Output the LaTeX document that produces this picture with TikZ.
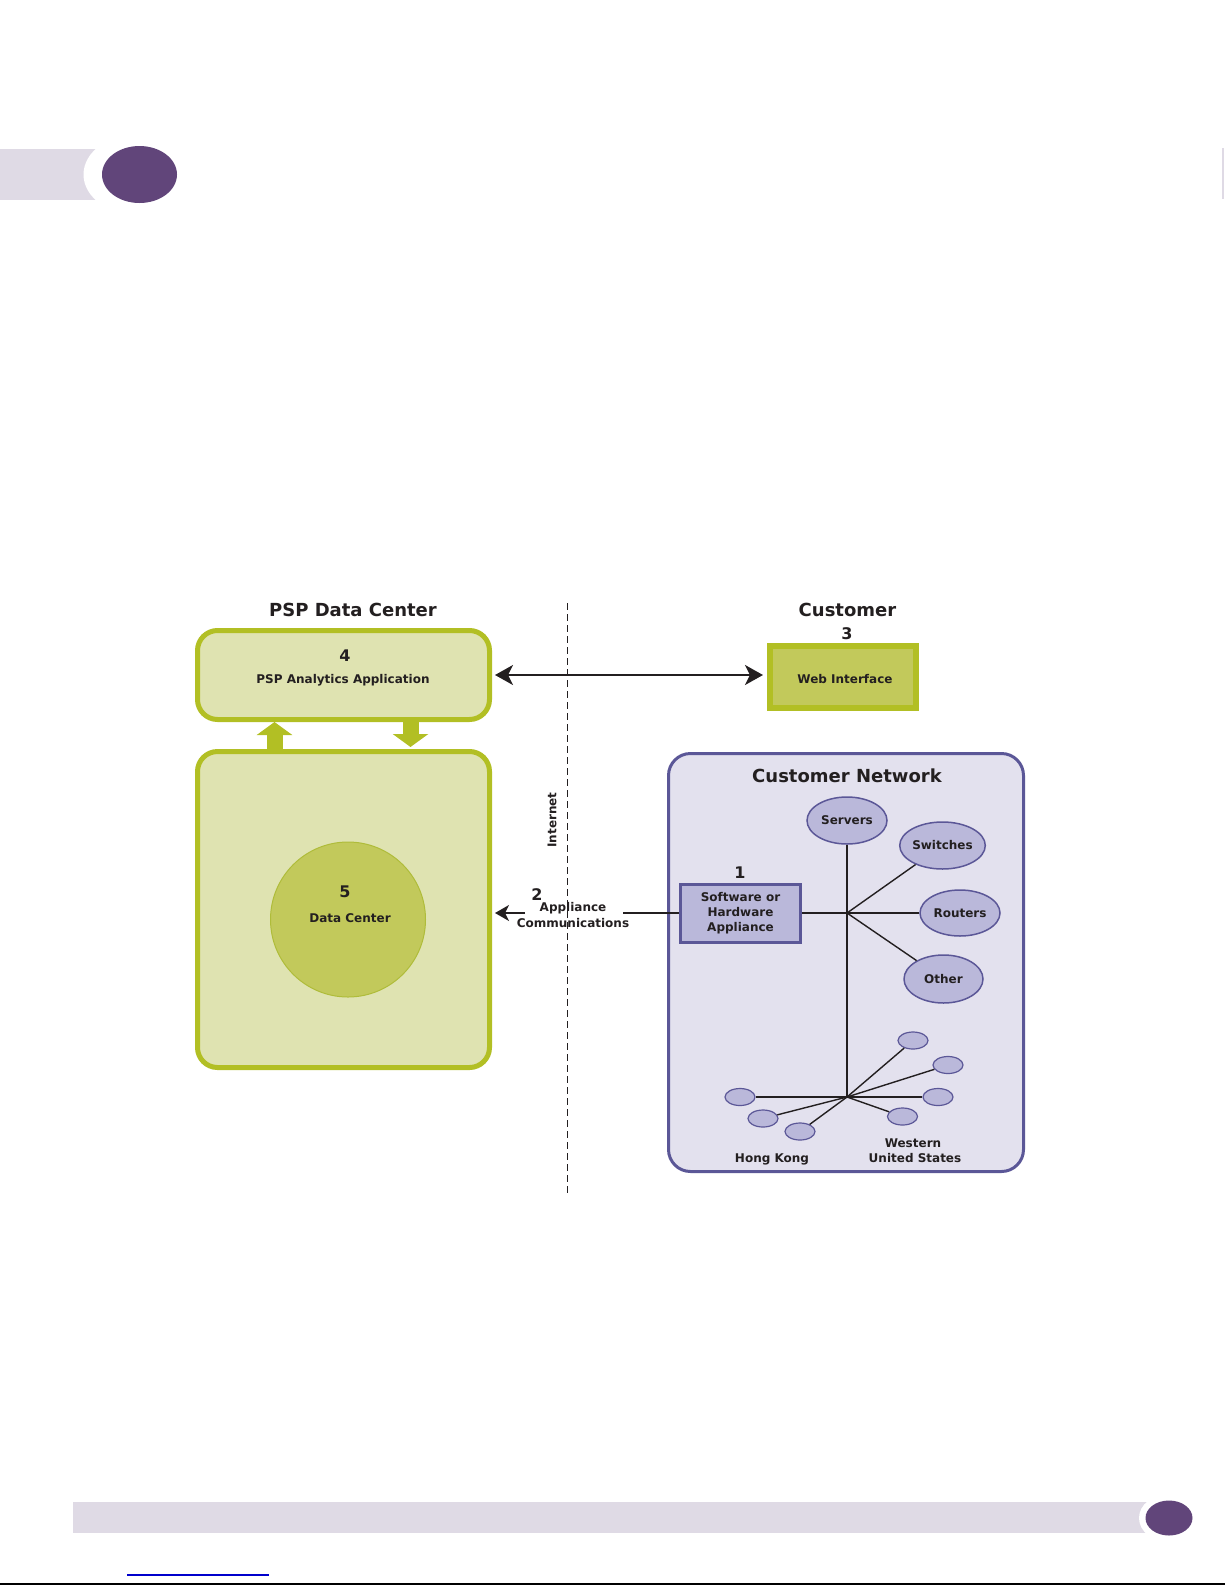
\documentclass[tikz,border=0pt]{standalone}
\usepackage{fontspec}
\setmainfont{DejaVu Sans}
\usetikzlibrary{arrows.meta,shapes.geometric}
\definecolor{grnb}{HTML}{B2BF24}
\definecolor{grnf}{HTML}{DFE3B1}
\definecolor{circf}{HTML}{C2C95B}
\definecolor{circb}{HTML}{AFBC3A}
\definecolor{purp}{HTML}{5B5797}
\definecolor{lavf}{HTML}{E3E1EE}
\definecolor{ellf}{HTML}{BAB8DA}
\definecolor{hdrbar}{HTML}{DFDAE5}
\definecolor{hdrdot}{HTML}{61457A}
\definecolor{txt}{HTML}{231F20}
\definecolor{linkblue}{HTML}{0000CC}
\begin{document}
\begin{tikzpicture}[x=1pt,y=-1pt,
  lbl/.style={anchor=base, inner sep=0pt, text=txt, font=\fontsize{12}{14}\selectfont\bfseries},
  ttl/.style={lbl, font=\fontsize{18}{20}\selectfont\bfseries},
  num/.style={lbl, font=\fontsize{16}{18}\selectfont\bfseries},
  greenbox/.style={draw=grnb, fill=grnf, line width=5pt, rounded corners=20pt, inner sep=0pt},
  netbox/.style={draw=purp, fill=lavf, line width=3pt, rounded corners=22pt, inner sep=0pt},
  netell/.style={ellipse, draw=purp, fill=ellf, line width=1.5pt, inner sep=0pt, text=txt,
    font=\fontsize{12}{14}\selectfont\bfseries, minimum width=80pt, minimum height=47pt},
  smallell/.style={ellipse, draw=purp, fill=ellf, line width=1.2pt, inner sep=0pt,
    minimum width=30pt, minimum height=17pt},
  conn/.style={draw=txt, line width=1.4pt},
  fat/.style={draw=grnb, line width=16pt, -{Triangle[length=13pt,width=35pt]}}
]
\useasboundingbox (0,0) rectangle (1225,1585);

% header decoration
\fill[hdrbar] (0,149) rectangle (140,200);
\fill[white] (139.5,174.5) ellipse [x radius=56, y radius=41];
\fill[hdrdot] (139.5,174.5) ellipse [x radius=37.5, y radius=28.5];
\draw[hdrbar, line width=1.5pt] (1223,148) -- (1223,199);

% footer decoration
\fill[hdrbar] (73,1502) rectangle (1169,1533);
\fill[white] (1169,1518) ellipse [x radius=30, y radius=24];
\fill[hdrdot] (1169,1518) ellipse [x radius=23.5, y radius=17.5];
\draw[linkblue, line width=1.2pt] (127,1575) -- (269,1575);
\draw[black, line width=1.6pt] (0,1584) -- (1225,1584);

% internet divider
\draw[txt, line width=1pt, dash pattern=on 7pt off 4pt] (567,603) -- (567,1196);
\node[lbl, anchor=center, rotate=90, font=\fontsize{12}{14}\selectfont\bfseries] (inet) at (552,820) {Internet};

% PSP data center side
\node[ttl] (tpsp) at (353,616) {PSP Data Center};
\node[greenbox, minimum width=292pt, minimum height=89pt] (app) at (343.5,675) {};
\node[num] (n4) at (345,661) {4};
\node[lbl] (tapp) at (343,683) {PSP Analytics Application};

\node[greenbox, minimum width=292pt, minimum height=316pt] (dcbox) at (343.5,909.5) {};
\node[circle, draw=circb, fill=circf, line width=1pt, minimum size=155pt, inner sep=0pt] (dc) at (348,919.5) {};
\node[num] (n5) at (345,897) {5};
\node[lbl] (tdc) at (350,922) {Data Center};

\coordinate (ua) at (274.5,0);
\coordinate (da) at (410.5,0);
\draw[fat] (ua |- dcbox.north) -- (ua |- app.south);
\draw[fat, shorten >=2pt] (da |- app.south) -- (da |- dcbox.north);

% customer side
\node[ttl] (tcust) at (847.5,616) {Customer};
\node[num] (n3) at (847,639) {3};
\node[draw=grnb, fill=circf, line width=6pt, minimum width=146pt, minimum height=62pt, inner sep=0pt] (web) at (843,677) {};
\node[lbl] (tweb) at (845,683) {Web Interface};

\draw[conn, line width=2.2pt, {Stealth[length=18pt,width=20pt,inset=5pt]}-{Stealth[length=18pt,width=20pt,inset=5pt]}, shorten <=3pt, shorten >=4pt]
  (app.east) -- (app.east -| web.west);

% customer network
\node[netbox, minimum width=355pt, minimum height=418pt] (cnet) at (846,962.5) {};
\node[ttl] (tcnet) at (847,782) {Customer Network};

\node[draw=purp, fill=ellf, line width=3pt, minimum width=120pt, minimum height=58pt, inner sep=0pt,
  align=center, text=txt, font=\fontsize{12}{15}\selectfont\bfseries] (appl) at (740.5,913)
  {Software or\\Hardware\\Appliance};
\node[num] (n1) at (740,878) {1};

\node[netell] (servers) at (847,820.5) {Servers};
\node[netell, minimum width=81pt] (switches) at (942.5,845.5) {Switches};
\node[netell, minimum height=46pt] (routers) at (960,913) {Routers};
\node[netell, minimum width=79pt, minimum height=48pt] (other) at (943.5,979) {Other};

\coordinate (hub) at (847,913);
\coordinate (hub2) at (847,1097);

\node[smallell] (hk1) at (740,1097) {};
\node[smallell] (hk2) at (763,1118.5) {};
\node[smallell] (hk3) at (800,1131.5) {};
\node[smallell] (w1) at (913,1040.5) {};
\node[smallell] (w2) at (948,1065) {};
\node[smallell] (w3) at (938,1097) {};
\node[smallell] (w4) at (902.5,1116.5) {};

\draw[conn] (appl.east) -- (routers.west);
\draw[conn] (servers.south) -- (hub2);
\draw[conn] (hub) -- (switches);
\draw[conn] (hub) -- (other);
\foreach \e in {hk1,hk2,hk3,w1,w2,w3,w4} \draw[conn] (hub2) -- (\e);

\node[lbl] (thk) at (772,1162) {Hong Kong};
\node[lbl] (tw1) at (913,1147) {Western};
\node[lbl] (tw2) at (915,1162) {United States};

% appliance communications
\coordinate (c1) at (623,913);
\coordinate (c2) at (525,913);
\draw[conn] (appl.west) -- (c1);
\draw[conn, -{Stealth[length=14pt,width=16pt,inset=4pt]}, shorten >=3pt] (c2) -- (c2 -| dcbox.east);
\node[num] (n2) at (537,900) {2};
\node[lbl] (tac1) at (573,911) {Appliance};
\node[lbl] (tac2) at (573,927) {Communications};
\end{tikzpicture}
\end{document}
